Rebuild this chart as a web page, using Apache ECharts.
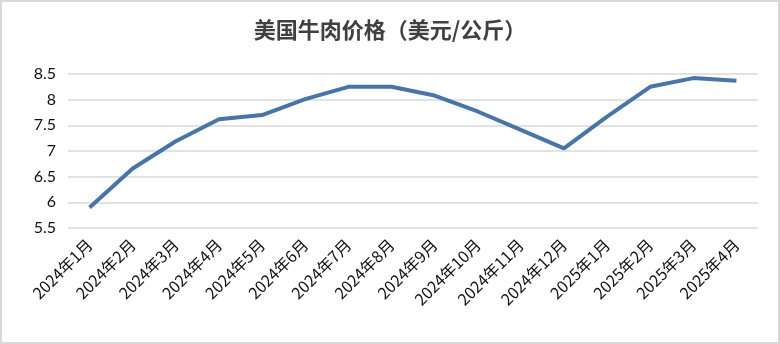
<!DOCTYPE html>
<html><head><meta charset="utf-8">
<script src="https://cdn.jsdelivr.net/npm/echarts@6/dist/echarts.min.js"></script>
<style>html,body{margin:0;padding:0;background:#fff}#c{width:776px;height:340px;border:2px solid #d9d9d9}</style>
</head><body><div id="c"></div>
<script>
const categories = ['2024年1月','2024年2月','2024年3月','2024年4月','2024年5月','2024年6月','2024年7月','2024年8月','2024年9月','2024年10月','2024年11月','2024年12月','2025年1月','2025年2月','2025年3月','2025年4月'];
const prices = [5.90, 6.66, 7.19, 7.62, 7.70, 8.01, 8.25, 8.25, 8.08, 7.77, 7.41, 7.05, 7.67, 8.25, 8.42, 8.37];
const titleText = '美国牛肉价格（美元/公斤）';
const chart = echarts.init(document.getElementById('c'));
chart.setOption({
  animation: false,
  title: { text: titleText, left: 'center', top: 12, textStyle: { fontFamily: 'Noto Sans CJK SC', fontSize: 22, fontWeight: 'bold', color: '#404040' } },
  grid: { left: 66, right: 20, top: 72, bottom: 114 },
  xAxis: { type: 'category', data: categories, boundaryGap: true,
    axisLine: { show: false }, axisTick: { show: false },
    axisLabel: { rotate: 45, fontSize: 16, color: '#111', fontFamily: 'Noto Sans CJK SC', margin: 14, interval: 0 } },
  yAxis: { type: 'value', min: 5.5, max: 8.5, interval: 0.5,
    axisLine: { show: false }, axisTick: { show: false },
    axisLabel: { fontSize: 16, color: '#111', fontFamily: 'Lato', margin: 12 },
    splitLine: { lineStyle: { color: '#d9d9d9', width: 1.5 } } },
  series: [{ type: 'line', data: prices, symbol: 'none', lineStyle: { color: '#4575AD', width: 4 } }]
});
</script></body></html>
